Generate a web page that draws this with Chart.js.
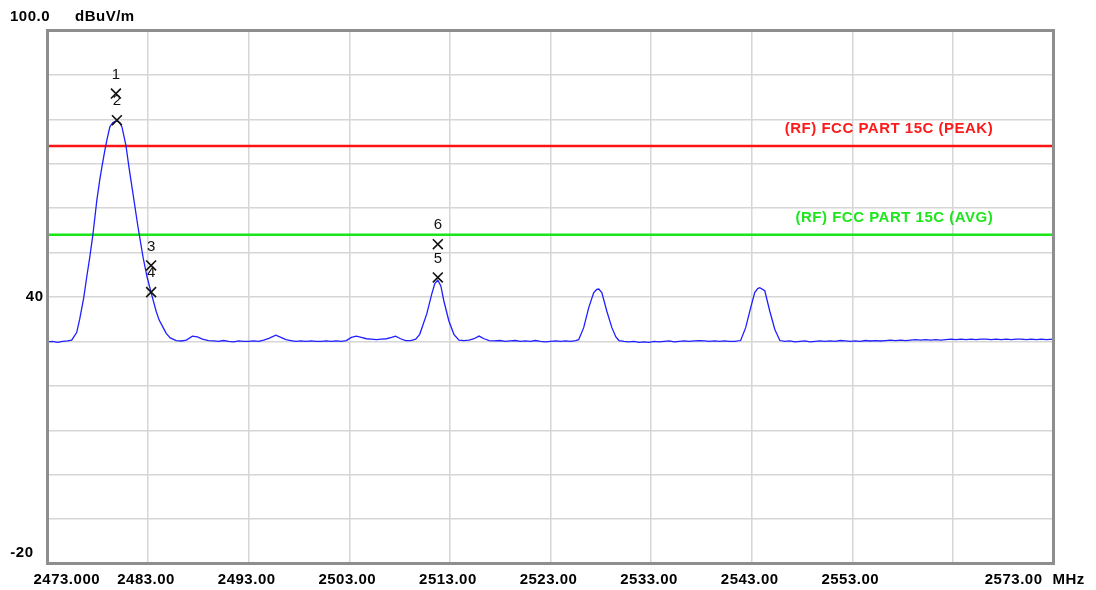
<!DOCTYPE html>
<html>
<head>
<meta charset="utf-8">
<script src="https://cdn.jsdelivr.net/npm/chart.js@4.4.1/dist/chart.umd.min.js"></script>
<style>
  html, body { margin: 0; padding: 0; background: #ffffff; }
  #wrap { width: 1096px; height: 590px; }
</style>
</head>
<body>
<div id="wrap"><canvas id="spectrum" width="1096" height="590"></canvas></div>
<script>
// ==========================================================
// DATA
// ==========================================================
const xTicks = [2473, 2483, 2493, 2503, 2513, 2523, 2533, 2543, 2553, 2563, 2573];
const xTickLabels = ['2473.000', '2483.00', '2493.00', '2503.00', '2513.00', '2523.00',
                     '2533.00', '2543.00', '2553.00', '', '2573.00'];
const yTickLabels = { top: '100.0', mid: '40', bottom: '-20' };
const unitY = 'dBuV/m';
const unitX = 'MHz';

const limitPeak = 74;
const limitAvg = 54;
const limitPeakLabel = '(RF) FCC PART 15C (PEAK)';
const limitAvgLabel = '(RF) FCC PART 15C (AVG)';

const markerNo    = ['1', '2', '3', '4', '5', '6'];
const markerFreq  = [2479.8, 2479.9, 2483.3, 2483.3, 2511.8, 2511.8];
const markerLevel = [85.8, 79.8, 47.1, 41.1, 44.4, 51.9];

const traceFreq = [
  2473.0, 2473.5, 2474.0, 2474.5, 2475.0, 2475.4, 2475.9, 2476.2, 2476.6, 2476.9,
  2477.2, 2477.5, 2477.9, 2478.2, 2478.4, 2478.7, 2478.9, 2479.2, 2479.5, 2479.9,
  2480.2, 2480.4, 2480.8, 2481.1, 2481.5, 2482.0, 2482.5, 2482.9, 2483.3, 2483.8,
  2484.1, 2484.5, 2484.8, 2485.2, 2485.8, 2486.3, 2486.8, 2487.4, 2487.9, 2488.4,
  2489.0, 2489.5, 2490.0, 2490.5, 2491.0, 2491.5, 2492.0, 2492.5, 2493.0, 2493.5,
  2494.0, 2494.5, 2495.0, 2495.7, 2496.2, 2496.7, 2497.2, 2497.7, 2498.2, 2498.7,
  2499.2, 2499.7, 2500.2, 2500.7, 2501.2, 2501.7, 2502.2, 2502.7, 2503.2, 2503.7,
  2504.2, 2504.7, 2505.2, 2505.7, 2506.2, 2506.7, 2507.2, 2507.6, 2508.1, 2508.6,
  2509.1, 2509.6, 2510.0, 2510.7, 2511.2, 2511.5, 2511.8, 2512.1, 2512.4, 2512.9,
  2513.4, 2513.9, 2514.4, 2514.9, 2515.4, 2515.9, 2516.4, 2516.9, 2517.4, 2518.0,
  2518.5, 2519.0, 2519.5, 2520.0, 2520.5, 2521.0, 2521.5, 2522.0, 2522.5, 2523.0,
  2523.5, 2524.0, 2524.5, 2525.0, 2525.5, 2525.8, 2526.3, 2526.8, 2527.3, 2527.6,
  2527.8, 2528.1, 2528.6, 2529.1, 2529.5, 2529.8, 2530.3, 2530.8, 2531.3, 2531.8,
  2532.3, 2532.8, 2533.3, 2533.8, 2534.3, 2534.8, 2535.3, 2535.8, 2536.3, 2536.8,
  2537.3, 2537.8, 2538.3, 2538.8, 2539.3, 2539.8, 2540.3, 2540.8, 2541.3, 2541.9,
  2542.4, 2542.9, 2543.3, 2543.6, 2543.8, 2544.3, 2544.8, 2545.3, 2545.8, 2546.3,
  2546.8, 2547.3, 2547.8, 2548.3, 2548.8, 2549.3, 2549.8, 2550.3, 2550.8, 2551.3,
  2551.8, 2552.3, 2552.8, 2553.3, 2553.8, 2554.3, 2554.8, 2555.3, 2555.8, 2556.3,
  2556.8, 2557.3, 2557.8, 2558.3, 2558.8, 2559.3, 2559.8, 2560.3, 2560.8, 2561.3,
  2561.8, 2562.3, 2562.8, 2563.3, 2563.8, 2564.3, 2564.8, 2565.3, 2565.8, 2566.3,
  2566.8, 2567.3, 2567.8, 2568.3, 2568.8, 2569.3, 2569.8, 2570.3, 2570.8, 2571.3,
  2571.8, 2572.3, 2573.0
];
const traceLevel = [
  29.9, 30.0, 29.8, 30.0, 30.1, 30.3, 32.0, 35.0, 39.8, 44.5,
  48.9, 53.8, 61.7, 66.5, 69.2, 73.0, 75.3, 78.3, 79.3, 79.7,
  79.2, 78.3, 74.1, 69.2, 63.2, 55.7, 48.9, 44.5, 41.0, 36.8,
  34.8, 33.1, 31.8, 30.8, 30.2, 30.1, 30.3, 31.2, 31.0, 30.5,
  30.2, 30.1, 30.0, 30.2, 30.0, 29.9, 30.1, 30.0, 30.0, 30.1,
  30.0, 30.3, 30.7, 31.4, 30.9, 30.4, 30.2, 30.0, 30.1, 30.0,
  30.1, 30.0, 30.0, 30.1, 30.0, 30.1, 30.0, 30.2, 30.9, 31.2,
  30.9, 30.6, 30.5, 30.4, 30.5, 30.6, 30.9, 31.2, 30.6, 30.2,
  30.2, 30.5, 31.6, 36.2, 40.7, 43.0, 43.8, 42.5, 39.1, 34.6,
  31.6, 30.3, 30.2, 30.3, 30.6, 31.2, 30.6, 30.2, 30.1, 30.2,
  30.0, 30.1, 30.2, 30.0, 30.1, 30.0, 30.2, 30.0, 29.9, 30.0,
  30.1, 30.0, 30.1, 30.0, 30.2, 30.4, 33.1, 37.6, 41.0, 41.7,
  41.8, 41.0, 36.8, 33.1, 31.0, 30.2, 30.0, 29.9, 30.0, 29.8,
  29.9, 29.8, 30.0, 29.9, 30.0, 30.1, 29.9, 30.0, 30.1, 30.0,
  30.1, 30.2, 30.1, 30.0, 30.1, 30.0, 30.1, 30.0, 30.0, 30.2,
  33.1, 37.6, 41.0, 41.9, 42.1, 41.4, 36.8, 32.7, 30.2, 30.0,
  30.1, 29.9, 30.0, 30.1, 29.9, 30.0, 30.1, 30.0, 30.1, 30.0,
  30.2, 30.1, 30.0, 30.1, 30.0, 30.2, 30.1, 30.2, 30.1, 30.2,
  30.3, 30.2, 30.3, 30.2, 30.3, 30.4, 30.3, 30.4, 30.3, 30.4,
  30.3, 30.4, 30.5, 30.4, 30.5, 30.4, 30.5, 30.4, 30.5, 30.5,
  30.4, 30.5, 30.4, 30.5, 30.4, 30.5, 30.5, 30.4, 30.5, 30.4,
  30.5, 30.4, 30.5
];

// ==========================================================
// TEXT / FRAME PLUGIN
// ==========================================================
const AXIS_FONT = 'bold 15px "Liberation Sans", Arial, sans-serif';

const overlayPlugin = {
  id: 'overlay',
  afterDatasetsDraw(chart) {
    const { ctx, chartArea: a, scales: { x, y } } = chart;
    ctx.save();

    // plot frame
    ctx.strokeStyle = '#8e8e8e';
    ctx.lineWidth = 3;
    ctx.strokeRect(a.left, a.top, a.right - a.left, a.bottom - a.top);

    // limit line captions
    ctx.font = 'bold 15px "Liberation Sans", Arial, sans-serif';
    ctx.letterSpacing = '0.5px';
    ctx.textAlign = 'right';
    ctx.textBaseline = 'middle';
    const capX = x.getPixelForValue(2567);
    ctx.fillStyle = '#ff1a1a';
    ctx.fillText(limitPeakLabel, capX, y.getPixelForValue(limitPeak) - 17);
    ctx.fillStyle = '#1ee61e';
    ctx.fillText(limitAvgLabel, capX, y.getPixelForValue(limitAvg) - 17);

    // marker numbers
    ctx.font = '15px "Liberation Sans", Arial, sans-serif';
    ctx.letterSpacing = '0px';
    ctx.textAlign = 'center';
    ctx.fillStyle = '#111111';
    markerNo.forEach((n, i) => {
      ctx.fillText(n, x.getPixelForValue(markerFreq[i]),
                   y.getPixelForValue(markerLevel[i]) - 19);
    });

    // y labels
    ctx.font = AXIS_FONT;
    ctx.letterSpacing = '0.5px';
    ctx.fillStyle = '#000000';
    ctx.textAlign = 'left';
    ctx.fillText(yTickLabels.top, 10, a.top - 14);
    ctx.fillText(unitY, 75, a.top - 14);
    ctx.textAlign = 'right';
    ctx.fillText(yTickLabels.mid, a.left - 4, y.getPixelForValue(40));
    ctx.fillText(yTickLabels.bottom, a.left - 14, y.getPixelForValue(-20) - 11);

    // x labels
    const ly = a.bottom + 16;
    xTicks.forEach((v, i) => {
      const lbl = xTickLabels[i];
      if (!lbl) return;
      const px = x.getPixelForValue(v);
      if (i === 0) {
        ctx.textAlign = 'left';
        ctx.fillText(lbl, px - 14, ly);
      } else if (i === xTicks.length - 1) {
        ctx.textAlign = 'right';
        ctx.fillText(lbl, px - 11, ly);
      } else {
        ctx.textAlign = 'center';
        ctx.fillText(lbl, px - 2, ly);
      }
    });
    ctx.textAlign = 'left';
    ctx.fillText(unitX, a.right - 1, ly);

    ctx.restore();
  }
};

// ==========================================================
// CHART
// ==========================================================
const ctx = document.getElementById('spectrum');

new Chart(ctx, {
  type: 'scatter',
  data: {
    datasets: [
      {
        label: 'markers',
        data: markerFreq.map((f, i) => ({ x: f, y: markerLevel[i] })),
        showLine: false,
        pointStyle: 'crossRot',
        pointRadius: 7,
        pointBorderWidth: 1.6,
        borderColor: '#111111',
        backgroundColor: '#111111',
        order: 0
      },
      {
        label: 'trace',
        data: traceFreq.map((f, i) => ({ x: f, y: traceLevel[i] })),
        showLine: true,
        borderColor: '#1f1fff',
        borderWidth: 1.3,
        pointRadius: 0,
        tension: 0,
        order: 1
      },
      {
        label: 'peak limit',
        data: [{ x: xTicks[0], y: limitPeak }, { x: xTicks[xTicks.length - 1], y: limitPeak }],
        showLine: true,
        borderColor: '#ff1414',
        borderWidth: 2.5,
        pointRadius: 0,
        order: 2
      },
      {
        label: 'avg limit',
        data: [{ x: xTicks[0], y: limitAvg }, { x: xTicks[xTicks.length - 1], y: limitAvg }],
        showLine: true,
        borderColor: '#19e619',
        borderWidth: 2.5,
        pointRadius: 0,
        order: 3
      }
    ]
  },
  options: {
    responsive: false,
    animation: false,
    layout: { padding: { left: 47.5, right: 42.5, top: 30.5, bottom: 26.5 } },
    plugins: {
      legend: { display: false },
      tooltip: { enabled: false }
    },
    scales: {
      x: {
        type: 'linear',
        min: xTicks[0],
        max: xTicks[xTicks.length - 1],
        afterBuildTicks: (scale) => { scale.ticks = xTicks.map(v => ({ value: v })); },
        ticks: { display: false },
        grid: { color: '#d6d6d6', lineWidth: 1.5, drawTicks: false },
        border: { display: false }
      },
      y: {
        min: -20,
        max: 100,
        ticks: { display: false, stepSize: 10 },
        grid: { color: '#d6d6d6', lineWidth: 1.5, drawTicks: false },
        border: { display: false }
      }
    }
  },
  plugins: [overlayPlugin]
});
</script>
</body>
</html>
